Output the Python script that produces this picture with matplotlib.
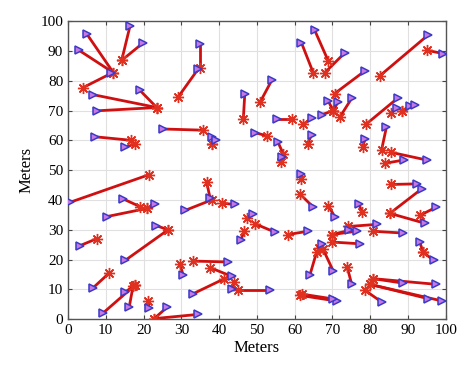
import matplotlib
matplotlib.use("Agg")
import matplotlib.pyplot as plt

# start points (red asterisks)
start_x = [12.0, 12.0, 4.0, 14.2, 14.2, 23.5, 23.5, 23.5, 29.2, 34.9,
           46.4, 50.8, 64.9, 68.9, 68.0, 82.5, 70.6, 94.9, 70.2, 70.2,
           72.0, 70.2, 79.0, 85.6, 88.3, 88.3, 59.2, 62.3, 16.8, 17.7,
           35.8, 38.0, 38.0, 21.5, 19.0, 21.0, 21.0, 38.0, 36.7, 40.7,
           47.3, 52.6, 57.0, 56.5, 63.4, 61.8, 61.4, 83.0, 78.0, 85.4,
           83.9, 85.6, 85.2, 85.2, 93.1, 68.9, 77.7, 26.5, 26.5, 7.6,
           10.9, 17.7, 17.7, 17.2, 21.2, 22.8, 22.8, 29.6, 33.2, 37.6,
           41.4, 44.0, 45.1, 49.5, 58.3, 46.6, 61.4, 62.0, 65.8, 67.5,
           66.5, 74.2, 69.8, 69.8, 80.8, 69.8, 94.0, 94.0, 73.9, 80.8,
           80.8, 79.9, 79.9, 78.6]
start_y = [82.7, 82.7, 77.7, 86.8, 86.8, 71.0, 71.0, 71.0, 74.6, 84.2,
           67.1, 72.7, 82.7, 86.6, 82.7, 81.6, 75.7, 90.2, 69.9, 69.9,
           67.9, 69.9, 65.5, 69.3, 69.7, 69.7, 67.1, 65.4, 60.0, 58.8,
           63.4, 58.8, 58.8, 48.5, 37.8, 37.2, 37.2, 40.0, 45.9, 38.9,
           34.0, 61.5, 55.4, 52.6, 58.8, 47.0, 42.0, 56.8, 57.6, 56.0,
           52.3, 45.2, 35.5, 35.5, 34.8, 38.1, 35.9, 30.0, 30.0, 27.0,
           15.5, 11.4, 11.4, 11.0, 6.1, 0.2, 0.2, 18.6, 19.5, 17.3,
           13.6, 12.5, 9.7, 32.0, 28.4, 29.5, 8.0, 8.4, 22.5, 23.5,
           24.0, 31.1, 28.4, 28.4, 29.5, 25.9, 22.5, 22.5, 17.5, 13.6,
           13.6, 11.7, 11.7, 9.7]
# end points (triangles)
end_x = [4.9, 2.9, 11.5, 16.4, 19.9, 6.7, 7.6, 19.0, 34.5, 34.9,
         46.8, 54.0, 61.8, 65.3, 73.3, 95.3, 78.6, 99.3, 68.9, 71.5,
         75.1, 67.1, 87.4, 87.0, 90.5, 91.8, 55.2, 64.5, 7.1, 15.1,
         25.2, 38.0, 39.3, 0.5, 14.5, 23.0, 10.2, 31.0, 37.6, 44.2,
         49.0, 49.5, 55.6, 56.7, 64.5, 61.8, 64.9, 84.3, 78.6, 94.9,
         88.9, 92.4, 93.6, 94.4, 97.5, 70.6, 77.1, 23.3, 15.1, 3.2,
         6.7, 9.3, 15.1, 16.2, 21.5, 26.3, 34.3, 30.5, 42.4, 43.3,
         33.2, 43.3, 53.4, 54.8, 63.4, 45.8, 71.1, 70.2, 64.0, 70.2,
         67.1, 81.7, 76.4, 74.5, 88.7, 77.2, 93.1, 96.8, 75.1, 88.7,
         97.5, 95.3, 99.1, 83.0]
end_y = [95.8, 90.2, 82.5, 98.3, 92.7, 75.3, 69.9, 76.8, 84.0, 92.4,
         75.7, 80.3, 92.7, 96.9, 89.4, 95.3, 83.3, 89.1, 73.2, 73.0,
         74.1, 68.6, 74.3, 71.0, 71.6, 71.8, 67.1, 67.4, 61.2, 57.6,
         63.8, 61.2, 60.1, 39.2, 40.4, 38.5, 34.4, 36.5, 40.7, 38.5,
         35.4, 62.6, 59.3, 54.3, 61.9, 48.7, 37.6, 64.5, 60.4, 53.4,
         53.4, 45.4, 43.7, 32.2, 37.6, 34.4, 38.5, 31.4, 19.7, 24.7,
         10.6, 2.1, 9.1, 4.1, 3.6, 4.1, 1.6, 14.7, 19.2, 14.4,
         8.6, 10.3, 9.7, 29.2, 29.5, 26.7, 6.1, 6.8, 14.7, 16.2,
         25.3, 31.8, 29.5, 29.8, 28.9, 25.3, 25.9, 19.7, 11.7, 12.1,
         11.7, 6.9, 6.1, 5.8]

ticks = [0, 10, 20, 30, 40, 50, 60, 70, 80, 90, 100]

plt.rcParams['font.family'] = ['Liberation Serif', 'DejaVu Serif']

fig = plt.figure(figsize=(4.74, 3.76), dpi=100)
ax = fig.add_axes([0.1435, 0.151, 0.797, 0.793])

for sx, sy, tx, ty in zip(start_x, start_y, end_x, end_y):
    ax.plot([sx, tx], [sy, ty], color='#d01010', lw=2.0, zorder=2,
            solid_capstyle='round')
ax.plot(start_x, start_y, linestyle='none', marker=(8, 2, 0), markersize=8,
        color='#e03020', markeredgecolor='#e03020', markeredgewidth=1.0,
        zorder=3)
ax.plot(end_x, end_y, linestyle='none', marker='>', markersize=6,
        markerfacecolor='#c878e0', markeredgecolor='#3a3ac8',
        markeredgewidth=1.1, zorder=4)

ax.set_xlim(0, 100)
ax.set_ylim(0, 100)
ax.set_xticks(ticks)
ax.set_yticks(ticks)
ax.grid(True, color='#e0e0e0', lw=0.8)
ax.set_axisbelow(True)
ax.tick_params(direction='in', top=True, right=True, labelsize=11,
               length=3, color='#444444')
for s in ax.spines.values():
    s.set_color('#555555')
    s.set_linewidth(1.0)
ax.set_xlabel('Meters', fontsize=12, labelpad=2)
ax.set_ylabel('Meters', fontsize=12, labelpad=4)

fig.savefig('out.png', dpi=100)
